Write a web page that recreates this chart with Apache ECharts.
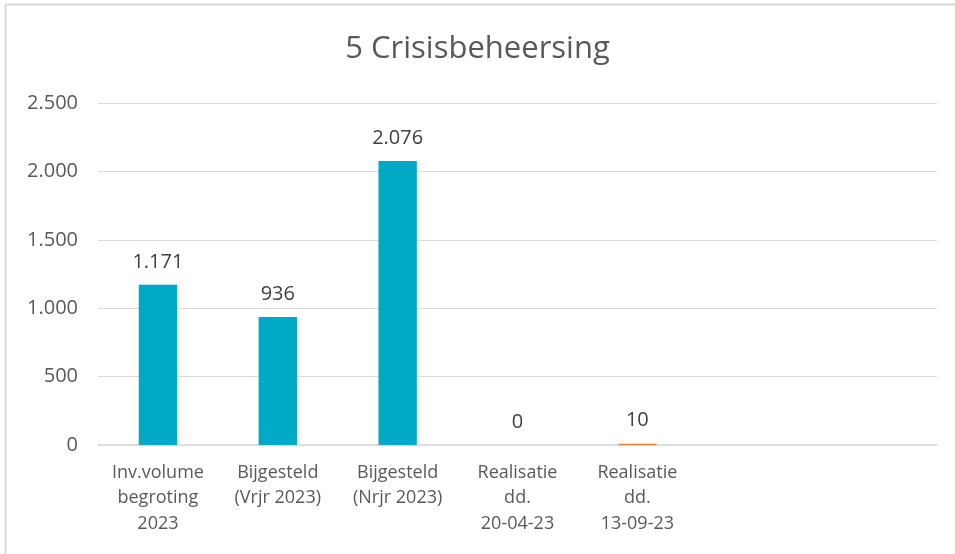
<!DOCTYPE html>
<html><head><meta charset="utf-8">
<script src="https://cdn.jsdelivr.net/npm/echarts@6/dist/echarts.min.js"></script>
<style>html,body{margin:0;padding:0;background:#fff}#c{width:955px;height:554px}</style>
</head><body><div id="c"></div>
<script>
const categories = ['Inv.volume\nbegroting\n2023', 'Bijgesteld\n(Vrjr 2023)', 'Bijgesteld\n(Nrjr 2023)', 'Realisatie\ndd.\n20-04-23', 'Realisatie\ndd.\n13-09-23', '', ''];
const values = [1171, 936, 2076, 0, 10, null, null];
const barColors = ['#00A9C4', '#00A9C4', '#00A9C4', '#00A9C4', '#ED7D31', '#00A9C4', '#00A9C4'];
const yTicks = [0, 500, 1000, 1500, 2000, 2500];

const fmt = v => String(v).replace(/\B(?=(\d{3})+(?!\d))/g, '.');
const font = '"Open Sans", "Liberation Sans", sans-serif';
const chart = echarts.init(document.getElementById('c'), null, {renderer: 'canvas'});
chart.setOption({
  animation: false,
  title: {text: '5 Crisisbeheersing', left: 'center', top: 29,
    textStyle: {fontFamily: font, fontSize: 31, fontWeight: 'normal', color: '#595959'}},
  graphic: [
    {type: 'line', shape: {x1: 5, y1: 4.5, x2: 955, y2: 4.5}, style: {stroke: '#d9d9d9', lineWidth: 2}},
    {type: 'line', shape: {x1: 5.5, y1: 4, x2: 5.5, y2: 554}, style: {stroke: '#d9d9d9', lineWidth: 2}}
  ],
  grid: {left: 98, right: 18, top: 103, bottom: 109},
  xAxis: {type: 'category', data: categories,
    axisLine: {lineStyle: {color: '#d9d9d9', width: 1.5}}, axisTick: {show: false},
    axisLabel: {interval: 0, fontFamily: font, fontSize: 18, color: '#595959', lineHeight: 25.5, margin: 15}},
  yAxis: {type: 'value', min: 0, max: 2500, interval: 500,
    axisLine: {show: false}, axisTick: {show: false},
    splitLine: {lineStyle: {color: '#d9d9d9', width: 1}},
    axisLabel: {fontFamily: font, fontSize: 20, color: '#595959', margin: 20, formatter: v => fmt(v)}},
  series: [{type: 'bar', barWidth: '32%',
    data: values.map((v, i) => ({value: v, itemStyle: {color: barColors[i]}})),
    label: {show: true, position: 'top', distance: 13, fontFamily: font, fontSize: 20, color: '#404040',
      formatter: p => p.value == null ? '' : fmt(p.value)}}]
});
</script></body></html>
